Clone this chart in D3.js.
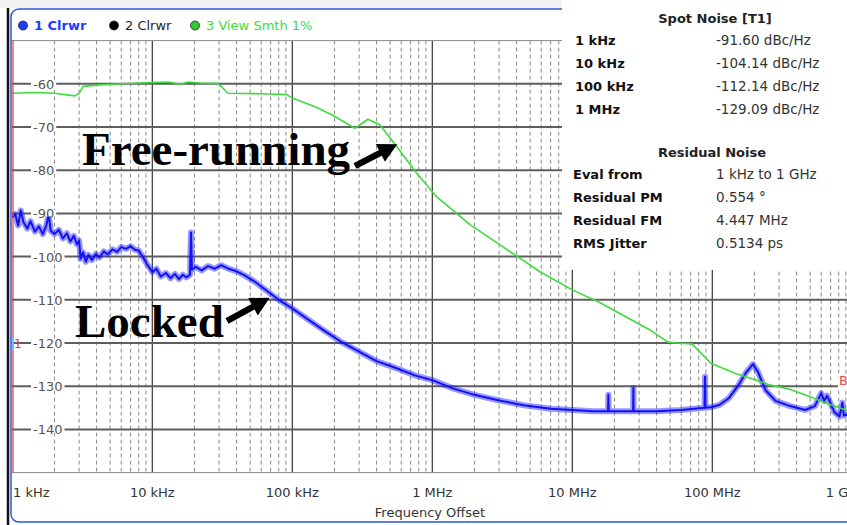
<!DOCTYPE html>
<html>
<head>
<meta charset="utf-8">
<script src="https://cdn.jsdelivr.net/npm/d3@7.9.0/dist/d3.min.js"></script>
<style>
html, body { margin: 0; padding: 0; background: #fff; }
svg { display: block; font-family: "DejaVu Sans", Verdana, sans-serif; }
</style>
</head>
<body>
<svg id="chart" width="847" height="525"></svg>
<script>
// axis ticks
const freqTicks = [1e3, 1e4, 1e5, 1e6, 1e7, 1e8, 1e9];
const freqTickLabels = ["1 kHz", "10 kHz", "100 kHz", "1 MHz", "10 MHz", "100 MHz", "1 GHz"];
const dbTicks = [-60, -70, -80, -90, -100, -110, -120, -130, -140];

// trace 1 (locked)
const lockedFreq = [1000, 1050, 1100, 1150, 1200, 1280, 1350, 1450, 1550, 1650, 1750, 1820, 1880, 2000, 2150, 2300, 2450, 2600, 2750, 2900,
  3000, 3080, 3200, 3350, 3500, 3700, 3950, 4200, 4500, 4800, 5200, 5600, 6000, 6500, 7000, 7500, 8000, 8600, 9200,
  10000, 10700, 11500, 12500, 13500, 14500, 15500, 16500, 17500, 18600, 18900, 19200, 20500, 22500, 25000, 28000, 31000, 35000,
  40000, 46000, 55000, 65000, 80000, 100000, 130000, 170000, 220000, 300000, 400000, 550000, 750000,
  1e6, 1.4e6, 2e6, 3e6, 4.5e6, 7e6, 1e7, 1.4e7, 1.80e7, 1.81e7, 1.82e7, 2.72e7, 2.73e7, 2.74e7, 4e7, 6e7, 8.8e7, 8.87e7, 8.94e7,
  1e8, 1.13e8, 1.31e8, 1.52e8, 1.73e8, 1.95e8, 2.11e8, 2.41e8, 2.83e8, 3.6e8, 4.6e8, 5.4e8, 6.0e8, 6.3e8, 6.6e8, 7.0e8, 7.45e8,
  8.1e8, 8.5e8, 8.7e8, 1e9];
const lockedDb = [-91, -90.2, -92.8, -89.3, -92, -93.5, -91.8, -94.2, -93, -94.8, -92.8, -90.2, -94, -94.8, -93.8, -95.8, -94.6, -96.5, -95.2, -97.2,
  -96.3, -100.5, -99, -101.2, -99.6, -100.8, -99.4, -100.2, -98.8, -99.5, -98.3, -98.9, -97.8, -98.2, -97.6, -98.4, -98.6, -100.2, -101.8,
  -103.6, -102.8, -104.6, -103.8, -105, -104, -105.2, -104.2, -104.8, -104.2, -94.4, -103, -102.4, -103.2, -102.2, -102.8, -102, -102.8,
  -103.4, -104.4, -106, -107.8, -110, -112, -114.6, -117.2, -119.6, -122, -124.2, -125.8, -127.5,
  -128.6, -130.5, -132, -133.3, -134.4, -135.2, -135.5, -135.8, -135.8, -132, -135.8, -135.8, -130.4, -135.8, -135.8, -135.5, -135, -127.8, -135,
  -134.8, -134.3, -132.8, -130, -127, -124.9, -126.6, -131, -133.4, -134.6, -135.5, -134.6, -131.6, -133.4, -132.2, -134, -136,
  -137, -133.8, -136.8, -136.3];

// trace 3 (free-running)
const freeFreq = [1000, 1500, 2000, 2800, 3000, 3200, 4000, 6000, 10000, 13000, 16000, 18000, 22000, 29500, 34800, 60000, 91400,
  100000, 150000, 200000, 280000, 347000, 422000, 557000, 774000, 1.07e6, 1.86e6, 3.05e6, 5.88e6, 1e7, 1.58e7,
  3.59e7, 4.83e7, 5.57e7, 7.16e7, 9.78e7, 1.45e8, 2.02e8, 2.57e8, 3.57e8, 4.95e8, 6.31e8, 8.1e8, 1e9];
const freeDb = [-62.2, -62, -62.2, -62.8, -62.2, -60.6, -60.3, -60, -59.7, -59.6, -60.1, -59.6, -59.8, -59.9, -62.2, -62.3, -62.5,
  -63.3, -65.5, -67.5, -70.3, -68.2, -69.5, -74.5, -80.7, -86.1, -92.6, -97.3, -103.5, -107.7, -110.7,
  -117, -119.8, -120, -120.2, -124.7, -127, -128.5, -129.7, -130.7, -132.4, -133.8, -135, -136];

const spotRows = [["1 kHz", "-91.60 dBc/Hz"], ["10 kHz", "-104.14 dBc/Hz"], ["100 kHz", "-112.14 dBc/Hz"], ["1 MHz", "-129.09 dBc/Hz"]];
const residualRows = [["Eval from", "1 kHz to 1 GHz"], ["Residual PM", "0.554 \u00b0"], ["Residual FM", "4.447 MHz"], ["RMS Jitter", "0.5134 ps"]];

const svg = d3.select("#chart");
const x = d3.scaleLog().domain([1e3, 1e9]).range([12.3, 852.3]);
const y = d3.scaleLinear().domain([-150, -50]).range([472.6, 40.6]);
const plotL = 12, plotR = 847, plotT = y(-50), plotB = y(-150);

svg.append("rect").attr("x", 0).attr("y", 0).attr("width", 847).attr("height", 8).attr("fill", "#f2f2f2");

svg.append("defs").append("clipPath").attr("id", "plotClip")
  .append("rect").attr("x", plotL).attr("y", plotT).attr("width", plotR - plotL).attr("height", plotB - plotT);

const grid = svg.append("g");

// minor dashed verticals
const minor = [];
freqTicks.slice(0, -1).forEach(d => { for (let k = 2; k <= 9; k++) minor.push(d * k); });
grid.selectAll(".minor").data(minor).enter().append("line")
  .attr("x1", d => x(d)).attr("x2", d => x(d))
  .attr("y1", plotT).attr("y2", plotB)
  .attr("stroke", "#8a8a8a").attr("stroke-width", 1).attr("stroke-dasharray", "4,3");

grid.selectAll(".major").data(freqTicks.slice(1, -1)).enter().append("line")
  .attr("x1", d => x(d)).attr("x2", d => x(d))
  .attr("y1", plotT).attr("y2", plotB)
  .attr("stroke", "#333").attr("stroke-width", 1.2);

grid.selectAll(".hline").data(dbTicks).enter().append("line")
  .attr("x1", plotL).attr("x2", plotR)
  .attr("y1", d => y(d)).attr("y2", d => y(d))
  .attr("stroke", "#5e5e5e").attr("stroke-width", 2);

grid.append("line").attr("x1", plotL).attr("x2", plotR).attr("y1", plotT).attr("y2", plotT).attr("stroke", "#888");
grid.append("line").attr("x1", plotL).attr("x2", plotR).attr("y1", plotB).attr("y2", plotB).attr("stroke", "#888");

// traces
const line = d3.line().x(d => x(d[0])).y(d => y(d[1]));
const lockedData = lockedFreq.map((f, i) => [f, lockedDb[i]]);
const freeData = freeFreq.map((f, i) => [f, freeDb[i]]);
const traces = svg.append("g").attr("clip-path", "url(#plotClip)");
traces.append("path").datum(lockedData).attr("d", line)
  .attr("fill", "none").attr("stroke", "#1a1aff").attr("stroke-width", 6).attr("stroke-opacity", 0.45).attr("stroke-linejoin", "round");
traces.append("path").datum(lockedData).attr("d", line)
  .attr("fill", "none").attr("stroke", "#1212f2").attr("stroke-width", 2).attr("stroke-linejoin", "round");
traces.append("path").datum(freeData).attr("d", line)
  .attr("fill", "none").attr("stroke", "#3ddc3d").attr("stroke-width", 1.6).attr("stroke-linejoin", "round");

// y labels inside the plot
const yl = svg.append("g");
dbTicks.forEach(d => {
  const t = yl.append("text").attr("x", 33).attr("y", y(d) + 5).attr("font-size", 13).attr("fill", "#555").text(d);
  const w = t.node().getComputedTextLength();
  yl.insert("rect", "text").attr("x", 31).attr("y", y(d) - 3).attr("width", w + 4).attr("height", 6).attr("fill", "#fff");
});

// x labels (first one left aligned, last one sits past the window edge)
svg.selectAll(".xl").data(freqTicks).enter().append("text")
  .attr("x", (d, i) => i === 0 ? 13 : (i === freqTicks.length - 1 ? x(d) - 7 : x(d)))
  .attr("y", 497)
  .attr("text-anchor", (d, i) => i === 0 ? "start" : "middle")
  .attr("font-size", 13).attr("fill", "#333")
  .text((d, i) => freqTickLabels[i]);
svg.append("text").attr("x", 430).attr("y", 517).attr("text-anchor", "middle")
  .attr("font-size", 13).attr("fill", "#333").text("Frequency Offset");

// markers at the edges
svg.append("line").attr("x1", 13).attr("x2", 13).attr("y1", plotT).attr("y2", plotB).attr("stroke", "#e43b3b").attr("stroke-width", 1.2);
svg.append("rect").attr("x", 12).attr("y", y(-120) - 6).attr("width", 2).attr("height", 12).attr("fill", "#7fb2ff");
svg.append("text").attr("x", 14).attr("y", y(-120) + 5).attr("font-size", 12).attr("fill", "#e43b3b").text("1");
svg.append("rect").attr("x", 838).attr("y", y(-130) - 9).attr("width", 12).attr("height", 13).attr("fill", "#fff");
svg.append("text").attr("x", 839).attr("y", y(-130) - 1).attr("font-size", 13).attr("fill", "#f04848").text("B1");

// window frame
svg.append("rect").attr("x", 11).attr("y", 9).attr("width", 900).attr("height", 513).attr("rx", 8)
  .attr("fill", "none").attr("stroke", "#2f55d4").attr("stroke-width", 1.5);
svg.append("line").attr("x1", 8).attr("x2", 8).attr("y1", 8).attr("y2", 525).attr("stroke", "#111").attr("stroke-width", 2.5);

// legend
const legend = [["1 Clrwr", "#1a3cff", "#1a3cff", 23, "bold"], ["2 Clrwr", "#222", "#000", 114, "normal"], ["3 View Smth 1%", "#3ddc3d", "#2ecc2e", 195, "normal"]];
legend.forEach(([label, tc, cc, cx, fw]) => {
  svg.append("circle").attr("cx", cx).attr("cy", 25.5).attr("r", 4.5).attr("fill", cc).attr("stroke", "#222").attr("stroke-width", 0.8);
  svg.append("text").attr("x", cx + 11).attr("y", 30).attr("font-size", 13).attr("font-weight", fw === "bold" ? 600 : 400)
    .attr("fill", tc).text(label);
});

// marker table
svg.append("rect").attr("x", 562).attr("y", 0).attr("width", 285).attr("height", 270).attr("fill", "#fff");
const tbl = svg.append("g");
tbl.append("text").attr("x", 715).attr("y", 23).attr("text-anchor", "middle").attr("font-size", 13).attr("font-weight", "bold").attr("fill", "#222").text("Spot Noise [T1]");
spotRows.forEach((r, i) => {
  tbl.append("text").attr("x", 575).attr("y", 45 + i * 23).attr("font-size", 13).attr("font-weight", "bold").attr("fill", "#111").text(r[0]);
  tbl.append("text").attr("x", 716).attr("y", 45 + i * 23).attr("font-size", 13.5).attr("fill", "#333").text(r[1]);
});
tbl.append("text").attr("x", 712).attr("y", 157).attr("text-anchor", "middle").attr("font-size", 13).attr("font-weight", "bold").attr("fill", "#222").text("Residual Noise");
residualRows.forEach((r, i) => {
  tbl.append("text").attr("x", 573).attr("y", 179 + i * 23).attr("font-size", 13).attr("font-weight", "bold").attr("fill", "#111").text(r[0]);
  tbl.append("text").attr("x", 716).attr("y", 179 + i * 23).attr("font-size", 13.5).attr("fill", "#333").text(r[1]);
});

// annotations
function arrow(x1, y1, x2, y2) {
  const dx = x2 - x1, dy = y2 - y1, L = Math.hypot(dx, dy);
  const ux = dx / L, uy = dy / L, nx = -uy, ny = ux;
  const sw = 3.2, hl = 19, hw = 10;
  const bx = x2 - ux * hl, by = y2 - uy * hl;
  const p = [[x1 + nx * sw, y1 + ny * sw], [bx + nx * sw, by + ny * sw], [bx + nx * hw, by + ny * hw], [x2, y2],
    [bx - nx * hw, by - ny * hw], [bx - nx * sw, by - ny * sw], [x1 - nx * sw, y1 - ny * sw]];
  svg.append("path").attr("d", "M" + p.map(q => q.join(",")).join("L") + "Z").attr("fill", "#000");
}
const ann = svg.append("g").attr("font-family", "'Liberation Serif', 'Times New Roman', serif").attr("font-weight", "bold").attr("font-size", 47).attr("fill", "#000");
ann.append("text").attr("x", 82).attr("y", 165).text("Free-running");
ann.append("text").attr("x", 75).attr("y", 337).text("Locked");
arrow(355, 166, x(5.62e5), y(-74));
arrow(227, 321, x(6.9e4), y(-109.5));
</script>
</body>
</html>
